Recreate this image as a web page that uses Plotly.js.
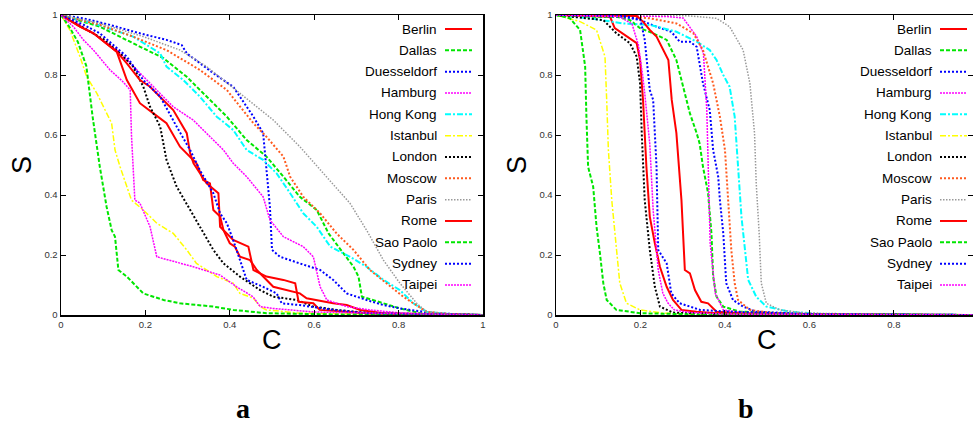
<!DOCTYPE html>
<html>
<head>
<meta charset="utf-8">
<script src="https://cdn.plot.ly/plotly-3.0.1.min.js"></script>
<style>html,body{margin:0;padding:0;background:#fff;}#chart{width:973px;height:428px;}</style>
</head>
<body>
<div id="chart"></div>
<script>
// ---------- DATA ----------
const cities = ["Berlin","Dallas","Duesseldorf","Hamburg","Hong Kong","Istanbul","London","Moscow","Paris","Rome","Sao Paolo","Sydney","Taipei"];
const panelLabels = ["a","b"];
const axisTitleX = "C";
const axisTitleY = "S";
const tickVals = [0,0.2,0.4,0.6,0.8,1];

// Panel a
const a_Berlin_C = [0,0.045,0.077,0.108,0.132,0.156,0.187,0.219,0.25,0.282,0.306,0.321,0.337,0.353,0.361,0.377,0.385,0.4,0.412,0.424,0.448,0.464,0.503,0.535,0.566,0.582,0.645,0.677,0.709,0.764,0.85,1];
const a_Berlin_S = [1,0.961,0.939,0.906,0.878,0.783,0.706,0.672,0.639,0.561,0.528,0.506,0.45,0.439,0.35,0.328,0.283,0.239,0.228,0.194,0.183,0.15,0.094,0.083,0.072,0.056,0.039,0.033,0.017,0.006,0.003,0];
const a_Dallas_C = [0,0.092,0.195,0.243,0.298,0.345,0.393,0.44,0.487,0.527,0.566,0.606,0.634,0.669,0.693,0.705,0.713,0.764,0.803,0.851,1];
const a_Dallas_S = [1,0.961,0.889,0.856,0.794,0.728,0.661,0.583,0.528,0.461,0.394,0.35,0.272,0.206,0.161,0.128,0.061,0.039,0.022,0.006,0];
const a_Duesseldorf_C = [0,0.053,0.116,0.187,0.25,0.286,0.298,0.329,0.361,0.408,0.424,0.456,0.479,0.487,0.495,0.5,0.519,0.566,0.614,0.645,0.677,0.724,0.764,0.803,0.882,1];
const a_Duesseldorf_S = [1,0.989,0.967,0.939,0.917,0.9,0.872,0.839,0.806,0.761,0.728,0.661,0.606,0.494,0.361,0.217,0.194,0.172,0.15,0.117,0.072,0.05,0.033,0.022,0.006,0];
const a_Hamburg_C = [0,0.04,0.077,0.132,0.172,0.203,0.235,0.266,0.313,0.345,0.385,0.408,0.44,0.479,0.495,0.527,0.574,0.598,0.614,0.63,0.677,0.732,0.81,1];
const a_Hamburg_S = [1,0.97,0.939,0.883,0.828,0.783,0.739,0.694,0.65,0.606,0.55,0.506,0.461,0.394,0.317,0.261,0.228,0.194,0.094,0.05,0.028,0.017,0.006,0];
const a_HongKong_C = [0,0.077,0.171,0.235,0.25,0.29,0.329,0.369,0.408,0.44,0.479,0.511,0.543,0.574,0.606,0.638,0.685,0.724,0.764,0.803,0.835,0.866,0.92,1];
const a_HongKong_S = [1,0.972,0.928,0.872,0.828,0.783,0.728,0.661,0.617,0.55,0.517,0.472,0.406,0.339,0.294,0.228,0.194,0.161,0.117,0.083,0.039,0.011,0.003,0];
const a_Istanbul_C = [0,0.021,0.045,0.061,0.085,0.108,0.12,0.128,0.14,0.156,0.167,0.195,0.227,0.266,0.298,0.321,0.369,0.408,0.424,0.456,0.472,0.487,0.566,1];
const a_Istanbul_S = [1,0.95,0.861,0.794,0.739,0.672,0.639,0.55,0.494,0.428,0.383,0.35,0.306,0.272,0.217,0.172,0.128,0.106,0.072,0.056,0.028,0.017,0.006,0];
const a_London_C = [0,0.05,0.1,0.14,0.171,0.195,0.211,0.235,0.25,0.274,0.306,0.338,0.361,0.385,0.424,0.472,0.503,0.559,0.598,0.653,0.732,0.85,1];
const a_London_S = [1,0.96,0.92,0.872,0.828,0.761,0.694,0.628,0.517,0.428,0.35,0.272,0.217,0.172,0.128,0.083,0.061,0.05,0.028,0.017,0.006,0.002,0];
const a_Moscow_C = [0,0.092,0.171,0.25,0.329,0.393,0.456,0.487,0.527,0.543,0.574,0.614,0.653,0.693,0.732,0.772,0.811,0.835,0.866,0.92,1];
const a_Moscow_S = [1,0.967,0.928,0.883,0.817,0.75,0.639,0.594,0.528,0.461,0.394,0.339,0.272,0.217,0.15,0.106,0.061,0.039,0.011,0.003,0];
const a_Paris_C = [0,0.092,0.195,0.282,0.345,0.424,0.503,0.566,0.63,0.685,0.724,0.764,0.803,0.843,0.866,0.92,1];
const a_Paris_S = [1,0.972,0.928,0.883,0.828,0.739,0.65,0.561,0.461,0.372,0.283,0.183,0.106,0.039,0.011,0.003,0];
const a_Rome_C = [0,0.045,0.077,0.108,0.132,0.156,0.187,0.211,0.235,0.266,0.298,0.306,0.314,0.329,0.345,0.373,0.377,0.408,0.444,0.456,0.487,0.527,0.555,0.563,0.598,0.613,0.685,0.724,0.85,1];
const a_Rome_S = [1,0.961,0.939,0.906,0.878,0.839,0.783,0.761,0.728,0.683,0.606,0.539,0.506,0.472,0.439,0.406,0.294,0.25,0.228,0.15,0.128,0.117,0.106,0.044,0.039,0.017,0.011,0.006,0.002,0];
const a_SaoPaolo_C = [0,0.02,0.04,0.06,0.075,0.092,0.108,0.12,0.128,0.136,0.156,0.195,0.243,0.282,0.361,0.408,0.487,0.645,1];
const a_SaoPaolo_S = [1,0.96,0.91,0.83,0.66,0.494,0.361,0.283,0.261,0.15,0.128,0.072,0.05,0.039,0.028,0.017,0.006,0.002,0];
const a_Sydney_C = [0,0.05,0.092,0.156,0.195,0.235,0.274,0.306,0.329,0.361,0.377,0.393,0.408,0.424,0.44,0.479,0.511,0.523,0.566,0.645,0.724,1];
const a_Sydney_S = [1,0.97,0.939,0.861,0.783,0.728,0.628,0.55,0.483,0.406,0.339,0.306,0.25,0.183,0.117,0.094,0.072,0.039,0.033,0.017,0.006,0];
const a_Taipei_C = [0,0.03,0.053,0.077,0.116,0.145,0.164,0.167,0.175,0.187,0.211,0.227,0.313,0.377,0.416,0.455,0.472,0.502,0.6,1];
const a_Taipei_S = [1,0.96,0.917,0.883,0.817,0.78,0.75,0.6,0.383,0.373,0.294,0.194,0.161,0.133,0.094,0.061,0.028,0.022,0.01,0];

// Panel b
const b_Berlin_C = [0,0.128,0.139,0.151,0.175,0.191,0.199,0.206,0.214,0.222,0.234,0.246,0.262,0.277,0.297,0.333,0.38,0.5,1];
const b_Berlin_S = [1,0.994,0.956,0.944,0.922,0.906,0.85,0.717,0.494,0.328,0.239,0.161,0.094,0.05,0.017,0.011,0.006,0.002,0];
const b_Dallas_C = [0,0.08,0.143,0.175,0.199,0.23,0.262,0.285,0.301,0.317,0.333,0.34,0.348,0.36,0.368,0.372,0.38,0.396,0.435,0.6,1];
const b_Dallas_S = [1,0.994,0.994,0.983,0.956,0.939,0.917,0.85,0.761,0.672,0.606,0.572,0.494,0.406,0.272,0.128,0.061,0.028,0.011,0.003,0];
const b_Duesseldorf_C = [0,0.159,0.199,0.238,0.273,0.293,0.317,0.333,0.348,0.364,0.372,0.384,0.388,0.396,0.403,0.419,0.443,0.474,0.6,1];
const b_Duesseldorf_S = [1,0.994,0.983,0.961,0.944,0.911,0.911,0.894,0.772,0.683,0.55,0.461,0.383,0.272,0.106,0.05,0.028,0.011,0.003,0];
const b_Hamburg_C = [0,0.2,0.26,0.301,0.333,0.349,0.357,0.361,0.365,0.377,0.396,0.45,0.6,1];
const b_Hamburg_S = [1,0.998,0.995,0.99,0.928,0.872,0.683,0.461,0.239,0.072,0.017,0.006,0.002,0];
const b_HongKong_C = [0,0.08,0.159,0.222,0.285,0.333,0.364,0.38,0.396,0.411,0.423,0.431,0.439,0.455,0.474,0.498,0.553,0.632,1];
const b_HongKong_S = [1,0.989,0.972,0.967,0.944,0.911,0.883,0.85,0.8,0.761,0.661,0.494,0.328,0.117,0.061,0.028,0.011,0.003,0];
const b_Istanbul_C = [0,0.057,0.096,0.116,0.12,0.124,0.132,0.139,0.151,0.167,0.199,0.254,0.4,1];
const b_Istanbul_S = [1,0.978,0.95,0.861,0.717,0.55,0.383,0.272,0.106,0.039,0.017,0.006,0.002,0];
const b_London_C = [0,0.112,0.143,0.175,0.191,0.199,0.203,0.21,0.222,0.234,0.246,0.277,0.4,1];
const b_London_S = [1,0.983,0.939,0.906,0.861,0.772,0.606,0.383,0.217,0.094,0.028,0.008,0.002,0];
const b_Moscow_C = [0,0.159,0.222,0.285,0.325,0.348,0.372,0.388,0.4,0.407,0.415,0.423,0.431,0.459,0.514,0.7,1];
const b_Moscow_S = [1,0.997,0.989,0.972,0.939,0.883,0.772,0.661,0.55,0.383,0.217,0.106,0.05,0.017,0.006,0.002,0];
const b_Paris_C = [0,0.238,0.317,0.38,0.411,0.443,0.459,0.47,0.474,0.481,0.486,0.498,0.53,0.593,0.8,1];
const b_Paris_S = [1,1,0.997,0.989,0.961,0.883,0.772,0.606,0.439,0.272,0.106,0.039,0.017,0.006,0.002,0];
const b_Rome_C = [0,0.191,0.206,0.222,0.238,0.266,0.274,0.285,0.297,0.305,0.317,0.329,0.344,0.36,0.38,0.435,0.55,1];
const b_Rome_S = [1,0.997,0.978,0.95,0.928,0.85,0.717,0.606,0.383,0.15,0.139,0.083,0.044,0.039,0.011,0.006,0.002,0];
const b_SaoPaolo_C = [0,0.033,0.057,0.069,0.072,0.076,0.088,0.096,0.104,0.112,0.12,0.143,0.199,0.33,1];
const b_SaoPaolo_S = [1,0.989,0.95,0.828,0.661,0.494,0.428,0.294,0.206,0.106,0.05,0.017,0.006,0.002,0];
const b_Sydney_C = [0,0.16,0.2,0.21,0.222,0.23,0.238,0.242,0.262,0.273,0.293,0.317,0.341,0.411,0.6,1];
const b_Sydney_S = [1,0.997,0.985,0.917,0.75,0.717,0.494,0.217,0.172,0.072,0.039,0.028,0.017,0.011,0.003,0];
const b_Taipei_C = [0,0.15,0.18,0.195,0.205,0.21,0.222,0.23,0.242,0.253,0.265,0.28,0.32,0.4,1];
const b_Taipei_S = [1,0.995,0.97,0.9,0.8,0.74,0.57,0.35,0.15,0.072,0.04,0.017,0.008,0.003,0];

const panelA = [[a_Berlin_C,a_Berlin_S],[a_Dallas_C,a_Dallas_S],[a_Duesseldorf_C,a_Duesseldorf_S],[a_Hamburg_C,a_Hamburg_S],[a_HongKong_C,a_HongKong_S],[a_Istanbul_C,a_Istanbul_S],[a_London_C,a_London_S],[a_Moscow_C,a_Moscow_S],[a_Paris_C,a_Paris_S],[a_Rome_C,a_Rome_S],[a_SaoPaolo_C,a_SaoPaolo_S],[a_Sydney_C,a_Sydney_S],[a_Taipei_C,a_Taipei_S]];
const panelB = [[b_Berlin_C,b_Berlin_S],[b_Dallas_C,b_Dallas_S],[b_Duesseldorf_C,b_Duesseldorf_S],[b_Hamburg_C,b_Hamburg_S],[b_HongKong_C,b_HongKong_S],[b_Istanbul_C,b_Istanbul_S],[b_London_C,b_London_S],[b_Moscow_C,b_Moscow_S],[b_Paris_C,b_Paris_S],[b_Rome_C,b_Rome_S],[b_SaoPaolo_C,b_SaoPaolo_S],[b_Sydney_C,b_Sydney_S],[b_Taipei_C,b_Taipei_S]];

// ---------- STYLES ----------
const styles = [
  {color:"#ff0000", dash:"solid", width:2},
  {color:"#00e600", dash:"4px,2px", width:2},
  {color:"#0000ff", dash:"2px,2px", width:2},
  {color:"#ff00ff", dash:"2px,1px", width:1.5},
  {color:"#00ffff", dash:"6px,2px,2px,2px", width:2},
  {color:"#ffff00", dash:"6px,2px,2px,2px", width:1.5},
  {color:"#000000", dash:"2px,2px", width:2},
  {color:"#ff5a1e", dash:"2px,2px", width:2},
  {color:"#999999", dash:"1.5px,1.5px", width:1.5},
  {color:"#ff0000", dash:"solid", width:2},
  {color:"#00e600", dash:"4px,2px", width:2},
  {color:"#0000ff", dash:"2px,2px", width:2},
  {color:"#ff00ff", dash:"2px,1px", width:1.5}
];

const W = 973, H = 428;
const px = x => x / W;
const py = y => 1 - y / H;

const traces = [];
function addPanel(data, xa, ya) {
  data.forEach((d, i) => {
    traces.push({
      type: "scatter", mode: "lines", x: d[0], y: d[1], name: cities[i],
      xaxis: xa, yaxis: ya, showlegend: false, hoverinfo: "skip",
      line: {color: styles[i].color, dash: styles[i].dash, width: styles[i].width}
    });
  });
}
addPanel(panelA, "x", "y");
addPanel(panelB, "x2", "y2");

function axis(domain, range, anchor) {
  return {
    domain: domain, range: range, anchor: anchor,
    tickvals: tickVals, ticks: "inside", ticklen: 5, tickwidth: 1, tickcolor: "#000",
    showline: true, linecolor: "#000", linewidth: 1.5, mirror: "ticks",
    showgrid: false, zeroline: false,
    tickfont: {family: "Liberation Sans, Arial, sans-serif", size: 9.5, color: "#333"}
  };
}

const yDom = [1 - 315/H, 1 - 15/H];
const layout = {
  width: W, height: H,
  margin: {l: 0, r: 0, t: 0, b: 0},
  paper_bgcolor: "#fff", plot_bgcolor: "#fff",
  showlegend: false,
  xaxis: axis([px(61), px(483)], [0, 1], "y"),
  yaxis: axis(yDom, [0, 1], "x"),
  xaxis2: axis([px(556), px(972.5)], [0, 0.986], "y2"),
  yaxis2: axis(yDom, [0, 1], "x2"),
  shapes: [], annotations: []
};

// legends (gnuplot style: text then sample on the right)
const legendCfg = [{textRight: 439, x0: 445, x1: 472}, {textRight: 934, x0: 940, x1: 967}];
legendCfg.forEach(cfg => {
  cities.forEach((name, i) => {
    const yy = 29 + i * 21.33;
    layout.annotations.push({
      xref: "paper", yref: "paper", x: px(cfg.textRight), y: py(yy),
      xanchor: "right", yanchor: "middle", showarrow: false, text: name,
      font: {family: "Liberation Sans, Arial, sans-serif", size: 13.5, color: "#000"}
    });
    layout.shapes.push({
      type: "line", xref: "paper", yref: "paper",
      x0: px(cfg.x0), x1: px(cfg.x1), y0: py(yy), y1: py(yy),
      line: {color: styles[i].color, dash: styles[i].dash, width: styles[i].width}
    });
  });
});

// axis titles and panel labels
[272, 767].forEach((cx, k) => {
  layout.annotations.push({
    xref: "paper", yref: "paper", x: px(cx), y: py(340), xanchor: "center", yanchor: "middle",
    showarrow: false, text: axisTitleX,
    font: {family: "Liberation Sans, Arial, sans-serif", size: 27, color: "#000"}
  });
  layout.annotations.push({
    xref: "paper", yref: "paper", x: px(k === 0 ? 243 : 746), y: py(408), xanchor: "center", yanchor: "middle",
    showarrow: false, text: "<b>" + panelLabels[k] + "</b>",
    font: {family: "Liberation Serif, Times New Roman, serif", size: 28, color: "#000"}
  });
});
[22, 517].forEach(sx => {
  layout.annotations.push({
    xref: "paper", yref: "paper", x: px(sx), y: py(165), xanchor: "center", yanchor: "middle",
    showarrow: false, text: axisTitleY, textangle: -90,
    font: {family: "Liberation Sans, Arial, sans-serif", size: 27, color: "#000"}
  });
});

Plotly.newPlot("chart", traces, layout, {staticPlot: true, displayModeBar: false});
</script>
</body>
</html>
